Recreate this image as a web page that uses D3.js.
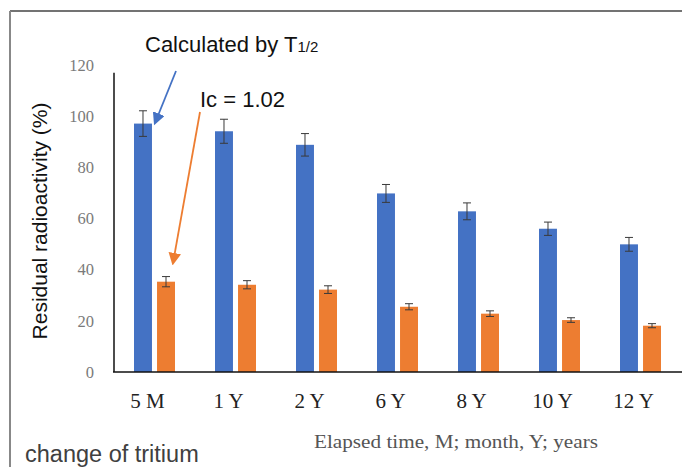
<!DOCTYPE html>
<html>
<head>
<meta charset="utf-8">
<script src="https://cdn.jsdelivr.net/npm/d3@7"></script>
<style>
  body { margin: 0; background: #fff; }
  svg { display: block; }
</style>
</head>
<body>
<svg id="chart" width="682" height="467"></svg>
<script>
// data
var categories = ["5 M", "1 Y", "2 Y", "6 Y", "8 Y", "10 Y", "12 Y"];
var series = ["halfLife", "ic"];
var halfLife = [97.1, 94.1, 88.8, 69.8, 62.8, 56.0, 49.9];
var halfLifeErr = [5.0, 4.7, 4.4, 3.5, 3.3, 2.6, 2.7];
var icValues = [35.3, 34.1, 32.2, 25.5, 22.8, 20.3, 18.1];
var icErr = [2.0, 1.6, 1.5, 1.2, 1.1, 0.9, 0.8];
var yTicks = [0, 20, 40, 60, 80, 100, 120];

var colors = { halfLife: "#4472C4", ic: "#ED7D31" };

var svg = d3.select("#chart");

var x = d3.scaleBand().domain(categories).range([114, 681])
    .paddingInner(0.494).paddingOuter(0.247);
var xs = d3.scaleBand().domain(series).range([0, x.bandwidth()])
    .paddingInner(0.22);
var y = d3.scaleLinear().domain([0, 120]).range([372, 65]);

// outer frame (cropped screenshot border)
svg.append("line").attr("x1", 10).attr("x2", 682).attr("y1", 11).attr("y2", 11)
    .attr("stroke", "#444").attr("stroke-width", 1.5);
svg.append("line").attr("x1", 10).attr("x2", 10).attr("y1", 11).attr("y2", 467)
    .attr("stroke", "#888").attr("stroke-width", 2);

// bars + error bars
var rows = categories.map(function (c, i) {
    return [
        { cat: c, key: "halfLife", v: halfLife[i], e: halfLifeErr[i] },
        { cat: c, key: "ic", v: icValues[i], e: icErr[i] }
    ];
});
var flat = [].concat.apply([], rows);

svg.append("g").selectAll("rect").data(flat).enter().append("rect")
    .attr("x", function (d) { return x(d.cat) + xs(d.key); })
    .attr("y", function (d) { return y(d.v); })
    .attr("width", xs.bandwidth())
    .attr("height", function (d) { return y(0) - y(d.v); })
    .attr("fill", function (d) { return colors[d.key]; });

var err = svg.append("g").attr("stroke", "#3a3a3a").attr("stroke-width", 1)
    .selectAll("g").data(flat).enter().append("g")
    .attr("transform", function (d) {
        return "translate(" + (x(d.cat) + xs(d.key) + xs.bandwidth() / 2) + ",0)";
    });
err.append("line")
    .attr("y1", function (d) { return y(d.v + d.e); })
    .attr("y2", function (d) { return y(d.v - d.e); });
err.append("line").attr("x1", -4).attr("x2", 4)
    .attr("y1", function (d) { return y(d.v + d.e); })
    .attr("y2", function (d) { return y(d.v + d.e); });
err.append("line").attr("x1", -4).attr("x2", 4)
    .attr("y1", function (d) { return y(d.v - d.e); })
    .attr("y2", function (d) { return y(d.v - d.e); });

// axes lines
svg.append("line").attr("x1", 114).attr("x2", 114).attr("y1", y(117)).attr("y2", y(0))
    .attr("stroke", "#111").attr("stroke-width", 1.5);
svg.append("line").attr("x1", 113).attr("x2", 682).attr("y1", y(0)).attr("y2", y(0))
    .attr("stroke", "#111").attr("stroke-width", 1.5);

// y tick labels
svg.append("g").selectAll("text").data(yTicks).enter().append("text")
    .attr("x", 94)
    .attr("y", function (d) { return y(d); })
    .attr("dy", "0.35em")
    .attr("text-anchor", "end")
    .attr("font-family", "Liberation Serif, Times New Roman, serif")
    .attr("font-size", 16.5)
    .attr("fill", "#7a7a7a")
    .text(function (d) { return d; });

// x tick labels
svg.append("g").selectAll("text").data(categories).enter().append("text")
    .attr("x", function (d) { return x(d) + x.bandwidth() / 2 - 7; })
    .attr("y", 408)
    .attr("text-anchor", "middle")
    .attr("font-family", "Liberation Serif, Times New Roman, serif")
    .attr("font-size", 21)
    .attr("fill", "#222")
    .text(function (d) { return d; });

// axis titles
svg.append("text")
    .attr("transform", "translate(47,221) rotate(-90)")
    .attr("text-anchor", "middle")
    .attr("font-family", "Liberation Sans, Arial, sans-serif")
    .attr("font-size", 21)
    .attr("fill", "#111")
    .text("Residual radioactivity (%)");

svg.append("text")
    .attr("x", 314).attr("y", 448)
    .attr("textLength", 284)
    .attr("lengthAdjust", "spacingAndGlyphs")
    .attr("font-family", "Liberation Serif, Times New Roman, serif")
    .attr("font-size", 19)
    .attr("fill", "#555")
    .text("Elapsed time, M; month, Y; years");

svg.append("text")
    .attr("x", 25).attr("y", 462)
    .attr("font-family", "Liberation Sans, Arial, sans-serif")
    .attr("font-size", 23.5)
    .attr("fill", "#404040")
    .text("change of tritium");

// annotations
var calc = svg.append("text")
    .attr("x", 145).attr("y", 52)
    .attr("font-family", "Liberation Sans, Arial, sans-serif")
    .attr("font-size", 22)
    .attr("fill", "#111");
calc.append("tspan").text("Calculated by T");
calc.append("tspan").attr("font-size", 15).text("1/2");

svg.append("text")
    .attr("x", 200).attr("y", 107)
    .attr("font-family", "Liberation Sans, Arial, sans-serif")
    .attr("font-size", 22)
    .attr("fill", "#111")
    .text("Ic = 1.02");

var defs = svg.append("defs");
["halfLife", "ic"].forEach(function (k) {
    defs.append("marker")
        .attr("id", "arrow-" + k)
        .attr("viewBox", "0 0 10 10")
        .attr("refX", 8).attr("refY", 5)
        .attr("markerWidth", 7).attr("markerHeight", 7)
        .attr("markerUnits", "strokeWidth")
        .attr("orient", "auto")
        .append("path").attr("d", "M0,0 L10,5 L0,10 z")
        .attr("fill", colors[k]);
});

svg.append("line")
    .attr("x1", 176).attr("y1", 71).attr("x2", 155).attr("y2", 123)
    .attr("stroke", colors.halfLife).attr("stroke-width", 1.8)
    .attr("marker-end", "url(#arrow-halfLife)");
svg.append("line")
    .attr("x1", 200).attr("y1", 112).attr("x2", 173).attr("y2", 263)
    .attr("stroke", colors.ic).attr("stroke-width", 1.8)
    .attr("marker-end", "url(#arrow-ic)");
</script>
</body>
</html>
